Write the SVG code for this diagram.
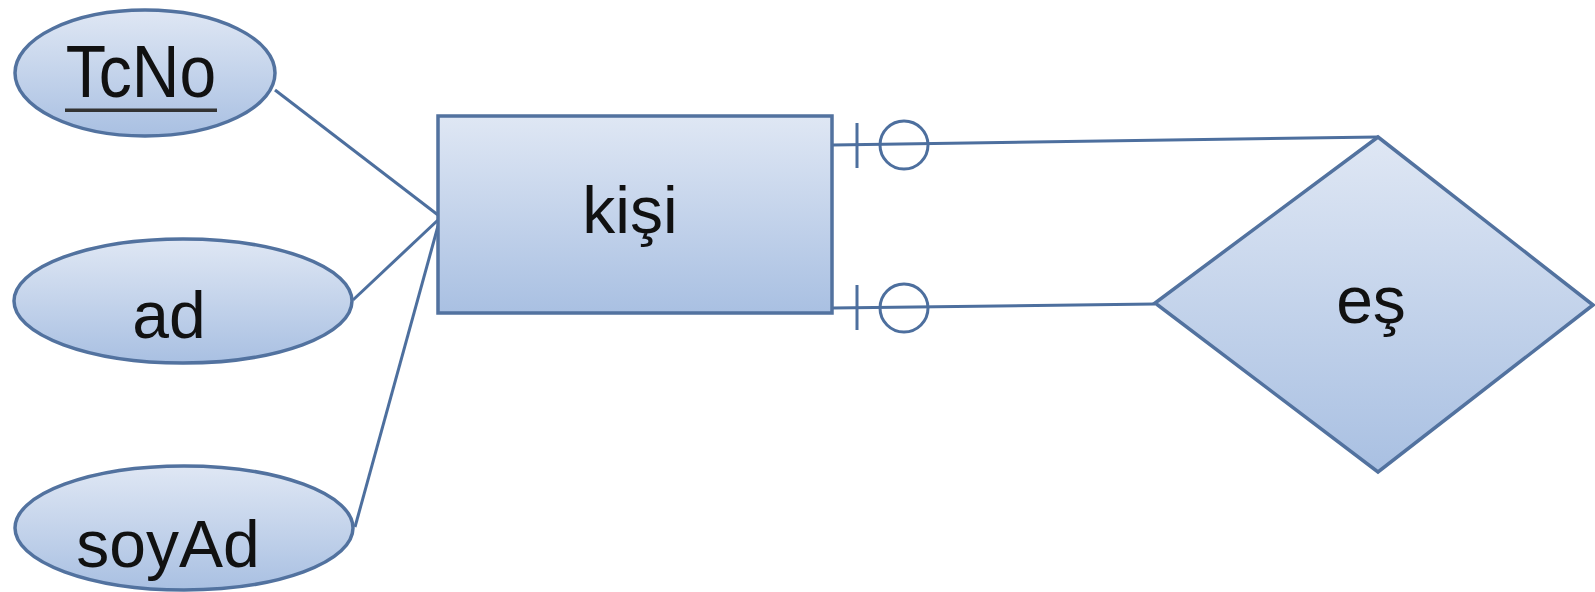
<svg xmlns="http://www.w3.org/2000/svg" width="1595" height="592" viewBox="0 0 1595 592">
<defs>
<linearGradient id="g" x1="0" y1="0" x2="0" y2="1">
<stop offset="0" stop-color="#dfe7f4"/>
<stop offset="1" stop-color="#a9c0e2"/>
</linearGradient>
<style>
.shape{fill:url(#g);stroke:#52729f;stroke-width:3.5}
.lbl{font-family:"Liberation Sans",Arial,sans-serif;font-size:66px;fill:#111;text-anchor:middle}
.con{stroke:#4d6f9e;stroke-width:3;fill:none}
</style>
</defs>
<rect width="1595" height="592" fill="#fff"/>
<g id="connectors">
<line class="con" x1="275" y1="90" x2="438" y2="215"/>
<line class="con" x1="353" y1="300" x2="438" y2="220"/>
<line class="con" x1="355" y1="527" x2="438" y2="226"/>
<line class="con" x1="833" y1="145" x2="1378" y2="137"/>
<line class="con" x1="857" y1="123" x2="857" y2="168"/>
<circle class="con" cx="904" cy="145" r="24"/>
<line class="con" x1="833" y1="308" x2="1155" y2="304"/>
<line class="con" x1="857" y1="285" x2="857" y2="330"/>
<circle class="con" cx="904" cy="308" r="24"/>
</g>
<g id="TcNo">
<ellipse class="shape" cx="145" cy="73" rx="130" ry="63"/>
<text class="lbl" transform="translate(141,97) scale(1,1.12)">TcNo</text>
<rect x="65" y="108.5" width="152" height="3.5" fill="#333"/>
</g>
<g id="ad">
<ellipse class="shape" cx="183" cy="301" rx="169" ry="62"/>
<text class="lbl" x="169" y="338">ad</text>
</g>
<g id="soyAd">
<ellipse class="shape" cx="184" cy="528" rx="169" ry="62"/>
<text class="lbl" x="168" y="567">soyAd</text>
</g>
<g id="kisi">
<rect class="shape" x="438" y="116" width="394" height="197" stroke-width="4.5"/>
<text class="lbl" x="630" y="233">kişi</text>
</g>
<g id="es">
<polygon class="shape" points="1378,137 1593,305 1378,472 1155,303"/>
<text class="lbl" x="1371" y="323">eş</text>
</g>
</svg>
